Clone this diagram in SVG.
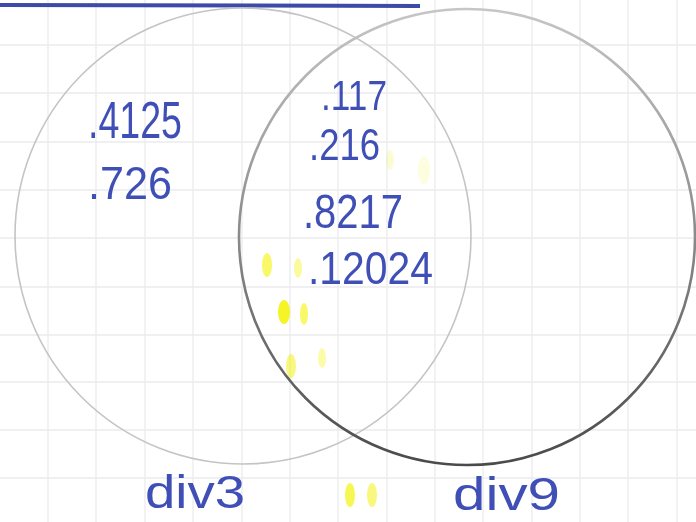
<svg xmlns="http://www.w3.org/2000/svg" width="696" height="522" viewBox="0 0 696 522">
<defs>
<linearGradient id="g9" x1="0" y1="0" x2="0" y2="1">
<stop offset="0" stop-color="#c6c6c6"/>
<stop offset="0.5" stop-color="#8a8a8a"/>
<stop offset="1" stop-color="#4a4a4a"/>
</linearGradient>
<style>
.grid line{stroke:#ebebef;stroke-width:1.3}
.ink{fill:#3f4fb6;font-family:"Liberation Sans",Arial,sans-serif}
.hl{fill:#f2f200}
</style>
</defs>
<rect width="696" height="522" fill="#ffffff"/>
<g class="grid">
<line x1="0" y1="45" x2="696" y2="45"/><line x1="0" y1="93" x2="696" y2="93"/><line x1="0" y1="142" x2="696" y2="142"/><line x1="0" y1="190" x2="696" y2="190"/><line x1="0" y1="238" x2="696" y2="238"/><line x1="0" y1="287" x2="696" y2="287"/><line x1="0" y1="335" x2="696" y2="335"/><line x1="0" y1="382" x2="696" y2="382"/><line x1="0" y1="430" x2="696" y2="430"/><line x1="0" y1="478" x2="696" y2="478"/>
<line x1="48" y1="0" x2="48" y2="522"/><line x1="96" y1="0" x2="96" y2="522"/><line x1="145" y1="0" x2="145" y2="522"/><line x1="193" y1="0" x2="193" y2="522"/><line x1="242" y1="0" x2="242" y2="522"/><line x1="290" y1="0" x2="290" y2="522"/><line x1="338" y1="0" x2="338" y2="522"/><line x1="387" y1="0" x2="387" y2="522"/><line x1="435" y1="0" x2="435" y2="522"/><line x1="483" y1="0" x2="483" y2="522"/><line x1="532" y1="0" x2="532" y2="522"/><line x1="580" y1="0" x2="580" y2="522"/><line x1="628" y1="0" x2="628" y2="522"/><line x1="677" y1="0" x2="677" y2="522"/>
</g>
<line x1="0" y1="5" x2="420" y2="6" stroke="#3c4aa8" stroke-width="4"/>
<g opacity="0.85">
<ellipse class="hl" cx="267" cy="265" rx="5" ry="12" opacity="0.7"/>
<ellipse class="hl" cx="298" cy="268" rx="4" ry="10" opacity="0.45"/>
<ellipse class="hl" cx="284" cy="312" rx="6" ry="12"/>
<ellipse class="hl" cx="304" cy="314" rx="4" ry="11" opacity="0.7"/>
<ellipse class="hl" cx="291" cy="366" rx="5" ry="12" opacity="0.6"/>
<ellipse class="hl" cx="322" cy="358" rx="4" ry="10" opacity="0.4"/>
<ellipse class="hl" cx="350" cy="495" rx="5" ry="12" opacity="0.8"/>
<ellipse class="hl" cx="372" cy="495" rx="5" ry="12" opacity="0.6"/>
<ellipse class="hl" cx="390" cy="160" rx="4" ry="10" opacity="0.2"/>
<ellipse class="hl" cx="424" cy="170" rx="6" ry="14" opacity="0.15"/>
</g>
<g id="set-div3">
<circle cx="243" cy="236" r="228" fill="none" stroke="#c4c4c4" stroke-width="1.6"/>
</g>
<g id="set-div9">
<circle cx="467" cy="237" r="228" fill="none" stroke="url(#g9)" stroke-width="2.6"/>
</g>
<g id="items">
<text class="ink" x="88" y="138" font-size="52" textLength="94" lengthAdjust="spacingAndGlyphs">.4125</text>
<text class="ink" x="88" y="199" font-size="46" textLength="84" lengthAdjust="spacingAndGlyphs">.726</text>
<text class="ink" x="321" y="110" font-size="42" textLength="66" lengthAdjust="spacingAndGlyphs">.117</text>
<text class="ink" x="309" y="160" font-size="44" textLength="71" lengthAdjust="spacingAndGlyphs">.216</text>
<text class="ink" x="303" y="228" font-size="48" textLength="100" lengthAdjust="spacingAndGlyphs">.8217</text>
<text class="ink" x="308" y="284" font-size="46" textLength="125" lengthAdjust="spacingAndGlyphs">.12024</text>
</g>
<g id="labels">
<text class="ink" x="145" y="508" font-size="46" textLength="100" lengthAdjust="spacingAndGlyphs">div3</text>
<text class="ink" x="453" y="510" font-size="46" textLength="107" lengthAdjust="spacingAndGlyphs">div9</text>
</g>
</svg>
